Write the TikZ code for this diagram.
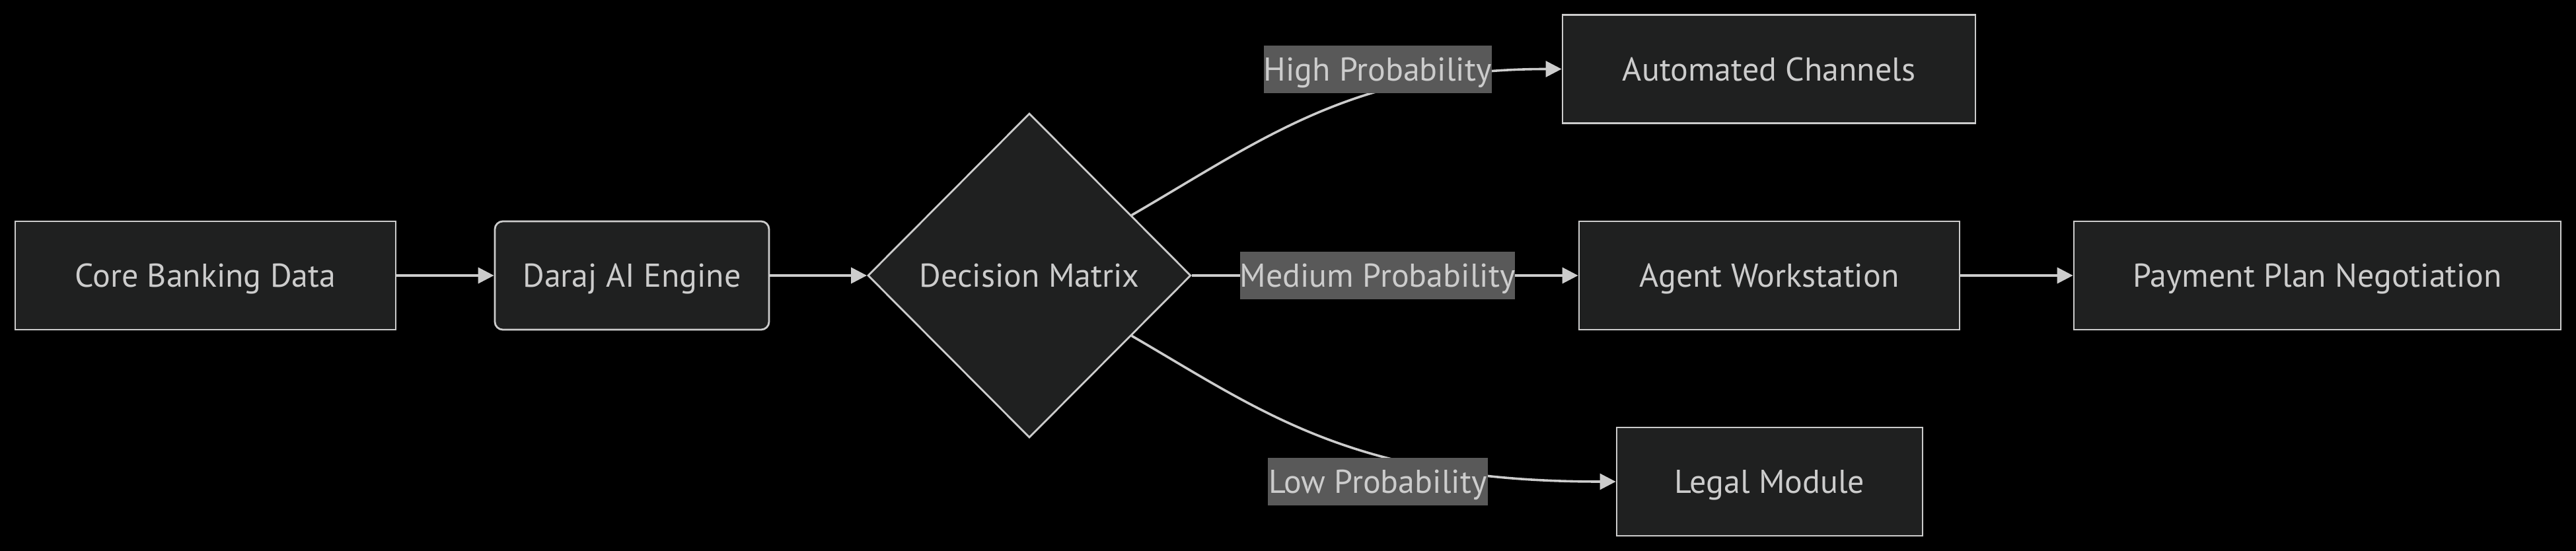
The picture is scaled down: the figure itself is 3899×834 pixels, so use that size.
\documentclass[tikz,border=0pt]{standalone}
\usepackage{fontspec}
\setmainfont{PT Sans}
\usetikzlibrary{shapes.geometric,arrows.meta,calc}
\definecolor{nodefill}{HTML}{1F2020}
\definecolor{strokec}{HTML}{CCCCCC}
\definecolor{lblbg}{HTML}{595959}
\begin{document}
\begin{tikzpicture}[x=0.25pt,y=-0.25pt,
  txt/.style={text=strokec, font=\fontsize{12.5}{15}\selectfont, text height=8.8pt, text depth=0pt},
  box/.style={txt, draw=strokec, fill=nodefill, line width=0.7pt,
    minimum height=41pt, inner sep=0pt},
  rbox/.style={box, rounded corners=3pt},
  dec/.style={txt, diamond, draw=strokec, fill=nodefill, line width=0.7pt,
    inner sep=0pt, minimum width=122.25pt, minimum height=122.75pt},
  lbl/.style={txt, fill=lblbg, inner sep=0pt, minimum height=18pt},
  edge/.style={draw=strokec, line width=0.9pt, -{Triangle[length=6pt,width=6pt]}}
]
\fill[black] (0,0) rectangle (3899,834);
\useasboundingbox (0,0) rectangle (3899,834);

\node[box, minimum width=144pt] (core) at (311,417) {Core Banking Data};
\node[rbox, minimum width=103.75pt] (daraj) at (956.5,417) {Daraj AI Engine};
\node[dec] (dm) at (1558,417) {Decision Matrix};
\node[box, minimum width=156.25pt] (ac) at (2677.5,104.5) {Automated Channels};
\node[box, minimum width=144pt] (aw) at (2678,417) {Agent Workstation};
\node[box, minimum width=115.75pt] (lm) at (2678.5,729) {Legal Module};
\node[box, minimum width=184.25pt] (pp) at (3507.5,417) {Payment Plan Negotiation};

\coordinate (hs) at ($(dm.north)!0.63!(dm.east)$);
\coordinate (ls) at ($(dm.south)!0.63!(dm.east)$);

\draw[edge] (core) -- (daraj);
\draw[edge] (daraj) -- (dm);
\draw[edge] (hs) .. controls +(200,-116) and +(-315,0) .. (ac.west);
\draw[edge] (dm.east) -- (aw.west);
\draw[edge] (ls) .. controls +(200,116) and +(-397,0) .. (lm.west);
\draw[edge] (aw) -- (pp);

\node[lbl, minimum width=85.5pt] (lh) at (2085,105) {High Probability};
\node[lbl, minimum width=103.5pt] (lmid) at (2085,417) {Medium Probability};
\node[lbl, minimum width=83.25pt] (ll) at (2085.5,729) {Low Probability};
\end{tikzpicture}
\end{document}
